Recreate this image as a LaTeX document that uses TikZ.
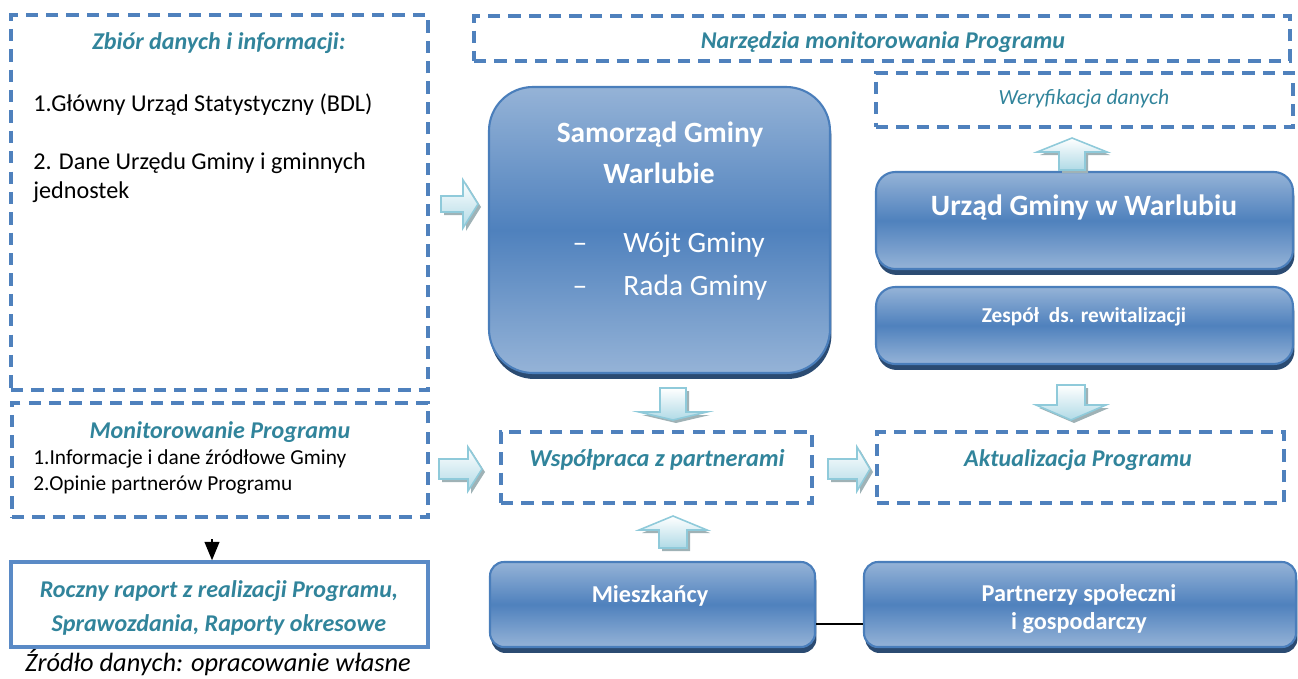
\documentclass[tikz,border=0pt]{standalone}
\usepackage{fontspec}
\setmainfont{Carlito}
\usetikzlibrary{fit,shadows,arrows.meta,calc}
\definecolor{dashblue}{HTML}{4F81BD}
\definecolor{tealtxt}{HTML}{31849B}
\definecolor{boxlight}{HTML}{95B3D7}
\definecolor{boxmid}{HTML}{4F81BD}
\definecolor{boxborder}{HTML}{4A7EBB}
\definecolor{boxshadow}{HTML}{2B4B72}
\definecolor{arrborder}{HTML}{8FCADA}
\definecolor{arrlight}{HTML}{B0DAE6}
\definecolor{arrshadow}{HTML}{9FB2B6}
\definecolor{rocborder}{HTML}{5A8AC6}
\newcommand\harr[6]{%
  \begin{scope}[shift={(3,3)}]
    \fill[arrshadow] (#1,#4-#5) -- (#2,#4-#5) -- (#2,#4-#6) -- (#3,#4) -- (#2,#4+#6) -- (#2,#4+#5) -- (#1,#4+#5) -- cycle;
  \end{scope}
  \path[arrowfill] (#1,#4-#5) -- (#2,#4-#5) -- (#2,#4-#6) -- (#3,#4) -- (#2,#4+#6) -- (#2,#4+#5) -- (#1,#4+#5) -- cycle;}
\newcommand\varr[6]{%
  \begin{scope}[shift={(3,3)}]
    \fill[arrshadow] (#1-#5,#2) -- (#1-#5,#3) -- (#1-#6,#3) -- (#1,#4) -- (#1+#6,#3) -- (#1+#5,#3) -- (#1+#5,#2) -- cycle;
  \end{scope}
  \path[arrowfill] (#1-#5,#2) -- (#1-#5,#3) -- (#1-#6,#3) -- (#1,#4) -- (#1+#6,#3) -- (#1+#5,#3) -- (#1+#5,#2) -- cycle;}
\begin{document}
\begin{tikzpicture}[x=0.02cm,y=-0.02cm,
  dbox/.style={draw=dashblue, line width=1.9pt, dash pattern=on 7pt off 4.6pt, inner sep=0pt},
  rbox/.style={draw=boxborder, line width=1.2pt, top color=boxlight, bottom color=boxlight, middle color=boxmid,
    drop shadow={shadow xshift=0.8pt, shadow yshift=-3.4pt, fill=boxshadow, opacity=1}, inner sep=0pt},
  arrowfill/.style={draw=arrborder, line width=0.9pt, top color=white, bottom color=arrlight},
  ttl/.style={text=tealtxt, font=\bfseries\itshape\fontsize{13.7}{16}\selectfont, anchor=base, inner sep=0pt},
  txt/.style={font=\fontsize{13.75}{16}\selectfont, anchor=base west, inner sep=0pt},
  stxt/.style={font=\fontsize{12.15}{14}\selectfont, anchor=base west, inner sep=0pt},
  wbig/.style={text=white, font=\bfseries\fontsize{16.75}{19}\selectfont, anchor=base, inner sep=0pt},
  wreg/.style={text=white, font=\fontsize{16.8}{19}\selectfont, inner sep=0pt},
  wmid/.style={text=white, font=\bfseries\fontsize{13.8}{16}\selectfont, anchor=base, inner sep=0pt},
]
\useasboundingbox (0,0) rectangle (1298,679);

% boxes
\node[dbox, fit={(11,15) (428,390)}] (zbior) {};
\node[dbox, fit={(474,16) (1290,61)}] (narz) {};
\node[dbox, fit={(876,73) (1293,127)}] (wery) {};
\node[rbox, rounded corners=25pt, fit={(489,87) (830,373)}] (sam) {};
\node[rbox, rounded corners=11pt, fit={(876,172) (1293,269)}] (urz) {};
\node[rbox, rounded corners=11pt, fit={(876,287) (1293,364)}] (zesp) {};
\node[dbox, fit={(12,403) (428,517)}] (mon) {};
\node[dbox, fit={(501,432) (812,503)}] (wsp) {};
\node[dbox, fit={(877,432) (1284,503)}] (akt) {};
\node[rbox, rounded corners=8pt, fit={(490,562) (815,647)}] (mies) {};
\node[rbox, rounded corners=8pt, fit={(864,562) (1296,647)}] (part) {};
\node[draw=rocborder, line width=2pt, inner sep=0pt, fit={(11,562) (428,647)}] (roc) {};

% texts
\node[ttl] (zbiorT) at (219,50) {Zbiór danych i informacji:};
\node[txt] (z1) at (33,112) {1.Główny Urząd Statystyczny (BDL)};
\node[txt] (z2) at (33,170) {2. Dane Urzędu Gminy i gminnych};
\node[txt] (z3) at (33,198) {jednostek};
\node[ttl] (narzT) at (883,49) {Narzędzia monitorowania Programu};
\node[ttl, font=\itshape\fontsize{12.3}{15}\selectfont] (weryT) at (1084,105) {Weryfikacja danych};
\node[wbig] (samT1) at (660,142) {Samorząd Gminy};
\node[wbig] (samT2) at (659,183) {Warlubie};
\node[wreg, anchor=base] (d1) at (580,252) {–};
\node[wreg, anchor=base west] (wojt) at (623,252) {Wójt Gminy};
\node[wreg, anchor=base] (d2) at (580,295) {–};
\node[wreg, anchor=base west] (rada) at (623,295) {Rada Gminy};
\node[wbig, font=\bfseries\fontsize{16.8}{19}\selectfont] (urzT) at (1084,215) {Urząd Gminy w Warlubiu};
\node[wmid, font=\bfseries\fontsize{12.1}{14}\selectfont] (zespT) at (1084,322) {Zespół\ \ ds. rewitalizacji};
\node[ttl] (monT) at (220,438) {Monitorowanie Programu};
\node[stxt] (m1) at (33,464) {1.Informacje i dane źródłowe Gminy};
\node[stxt] (m2) at (33,490) {2.Opinie partnerów Programu};
\node[ttl, font=\bfseries\itshape\fontsize{13.85}{16}\selectfont] (wspT) at (657,466) {Współpraca z partnerami};
\node[ttl] (aktT) at (1078,466) {Aktualizacja Programu};
\node[wmid] (miesT) at (650,602) {Mieszkańcy};
\node[wmid] (partT1) at (1079,601) {Partnerzy społeczni};
\node[wmid] (partT2) at (1079,629) {i gospodarczy};
\node[ttl] (rocT1) at (219,597) {Roczny raport z realizacji Programu,};
\node[ttl] (rocT2) at (219,631) {Sprawozdania, Raporty okresowe};
\node[font=\itshape\fontsize{15}{17}\selectfont, anchor=base, inner sep=0pt] (zrT) at (218,671) {Źródło danych: opracowanie własne};

% block arrows
\harr{441}{463}{478}{204}{8}{24}
\harr{439}{468}{482}{469}{10}{22}
\harr{828}{857}{870}{469}{10}{22}
\varr{673}{388}{412}{420}{13}{34}
\varr{1071}{385}{405}{420}{14}{35}
\varr{1072}{170}{152}{138}{13}{35}
\varr{673}{548}{530}{516}{14}{34}

% connectors
\draw[black, line width=1pt] ($(mies.east)+(0,19.5)$) -- ($(part.west)+(0,19.5)$);
\coordinate (mtail) at (212,539);
\draw[black, line width=0.8pt, -{Triangle[length=10.5pt, width=8.5pt]}] (mtail) -- (mtail |- roc.north);
\end{tikzpicture}
\end{document}
